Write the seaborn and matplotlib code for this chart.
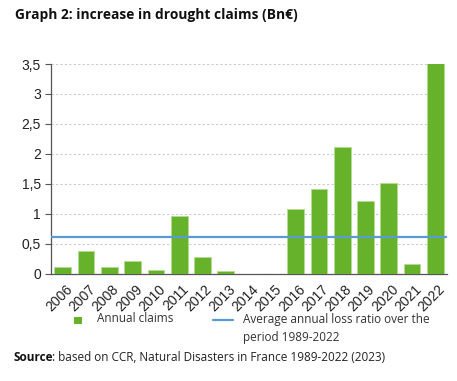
import numpy as np
import matplotlib
matplotlib.use("Agg")
import matplotlib.pyplot as plt
import seaborn as sns
from matplotlib.patches import Rectangle
from matplotlib.lines import Line2D

# data
years = ["2006", "2007", "2008", "2009", "2010", "2011", "2012", "2013", "2014",
         "2015", "2016", "2017", "2018", "2019", "2020", "2021", "2022"]
claims = [0.11, 0.39, 0.11, 0.22, 0.07, 0.97, 0.28, 0.05, 0.0,
          0.0, 1.08, 1.42, 2.12, 1.22, 1.52, 0.17, 3.52]
avg_loss_ratio = 0.61
y_ticks = [0, 0.5, 1, 1.5, 2, 2.5, 3, 3.5]
y_tick_labels = ["0", "0,5", "1", "1,5", "2", "2,5", "3", "3,5"]

green = "#67b22b"
blue = "#5b9bd5"
txt_font = ["Open Sans", "DejaVu Sans"]

sns.set_style("white")
plt.rcParams["font.family"] = ["Liberation Sans", "DejaVu Sans"]

W, H = 457, 381
fig = plt.figure(figsize=(W / 100, H / 100), dpi=100)
ax = fig.add_axes([0.112, 0.281, 0.866, 0.551])

sns.barplot(x=years, y=claims, color=green, width=0.72, edgecolor="#b5dc8f",
            linewidth=0.6, saturation=1, ax=ax, zorder=3)
ax.axhline(avg_loss_ratio, color=blue, lw=1.6, zorder=4)

ax.set_ylim(0, 3.5)
ax.set_xlim(-0.5, len(years) - 0.5)
ax.set_yticks(y_ticks)
ax.set_yticklabels(y_tick_labels, fontsize=10, color="#222222")
ax.yaxis.grid(True, ls=(0, (2, 2)), color="#cccccc", lw=0.8)
ax.set_axisbelow(True)

# ticks between categories like excel
ax.set_xticks(np.arange(len(years)) + 0.1)
ax.set_xticklabels(years, rotation=45, ha="right", rotation_mode="anchor",
                   fontsize=10, color="#222222")
ax.set_xticks(np.arange(len(years) + 1) - 0.5, minor=True)
ax.tick_params(axis="x", which="major", length=0, pad=6)
ax.tick_params(axis="x", which="minor", length=4, color="#555555", width=0.8, direction="out")
ax.tick_params(axis="y", length=4, color="#555555", width=0.8, direction="out", left=True)

for s in ["top", "right"]:
    ax.spines[s].set_visible(False)
ax.spines["left"].set_color("#555555")
ax.spines["bottom"].set_color("#555555")
ax.spines["left"].set_linewidth(0.9)
ax.spines["bottom"].set_linewidth(0.9)
ax.set_xlabel("")
ax.set_ylabel("")

fig.text(15 / W, 1 - 15 / H, "Graph 2: increase in drought claims (Bn€)", fontsize=9.9,
         fontweight="bold", family=txt_font, va="center", color="#111111")

# legend below the plot, laid out by hand
fig.add_artist(Rectangle((74 / W, 1 - 324 / H), 8 / W, 7 / H, transform=fig.transFigure,
                         facecolor=green, edgecolor="none"))
fig.text(97 / W, 1 - 319 / H, "Annual claims", fontsize=8.5, family=txt_font,
         va="center", color="#333333")
fig.add_artist(Line2D([213 / W, 233 / W], [1 - 320 / H, 1 - 320 / H],
                      transform=fig.transFigure, color=blue, lw=1.6))
fig.text(243 / W, 1 - 319 / H, "Average annual loss ratio over the", fontsize=8.5,
         family=txt_font, va="center", color="#333333")
fig.text(243 / W, 1 - 337 / H, "period 1989-2022", fontsize=8.5,
         family=txt_font, va="center", color="#333333")

src = fig.text(13 / W, 1 - 361 / H, "Source", fontsize=8.5, fontweight="bold",
               family=txt_font, va="baseline", color="#111111")
fig.canvas.draw()
bb = src.get_window_extent()
fig.text(bb.x1 / fig.bbox.width, 1 - 361 / H,
         ": based on CCR, Natural Disasters in France 1989-2022 (2023)",
         fontsize=8.5, family=txt_font, va="baseline", color="#222222")

fig.savefig("out.png", dpi=100, facecolor="white")
